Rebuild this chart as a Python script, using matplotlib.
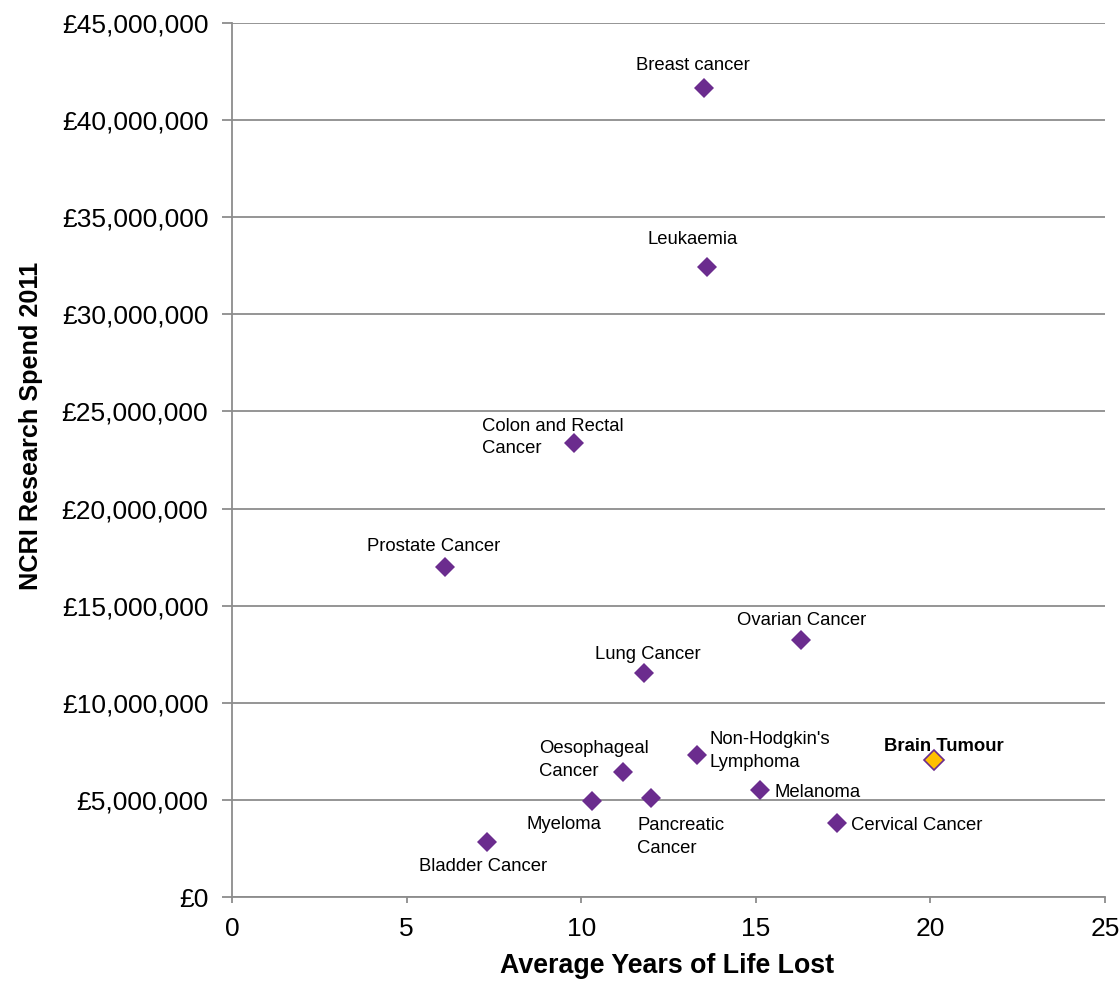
import matplotlib
matplotlib.use("Agg")
import matplotlib.pyplot as plt
from matplotlib.ticker import FuncFormatter

plt.rcParams['font.family'] = ['Liberation Sans', 'DejaVu Sans']

cancers = ["Breast cancer", "Leukaemia", "Colon and Rectal\nCancer", "Prostate Cancer",
           "Ovarian Cancer", "Lung Cancer", "Non-Hodgkin's\nLymphoma", "Brain Tumour",
           "Oesophageal\nCancer", "Melanoma", "Myeloma", "Pancreatic\nCancer",
           "Cervical Cancer", "Bladder Cancer"]
years_lost = [13.52, 13.60, 9.79, 6.10, 16.29, 11.80, 13.32, 20.10,
              11.20, 15.12, 10.31, 12.00, 17.33, 7.30]
spend = [41660000, 32440000, 23380000, 16990000, 13230000, 11530000, 7310000, 7050000,
         6440000, 5510000, 4940000, 5100000, 3810000, 2830000]

# label offsets in pixels (dx, dy) and horizontal alignment
label_pos = [(-11, 22, 'center'), (-14, 27, 'center'), (-92, 5, 'left'), (-11, 21, 'center'),
             (1, 20, 'center'), (4, 19, 'center'), (12, 4, 'left'), (10, 14, 'center'),
             (-84, 12, 'left'), (15, -2, 'left'), (-28, -23, 'center'), (-14, -39, 'left'),
             (14, -2, 'left'), (-4, -24, 'center')]

purple = '#6B2C8E'
gold = '#FFC000'
grey = '#8C8C8C'

fig = plt.figure(figsize=(11.2, 9.81), dpi=100)
ax = fig.add_axes([0.2071, 0.0856, 0.9866 - 0.2071, 0.9766 - 0.0856])

for name, x, y, (dx, dy, ha) in zip(cancers, years_lost, spend, label_pos):
    is_brain = name == "Brain Tumour"
    ax.plot(x, y, marker='D', markersize=10.5, linestyle='none',
            markerfacecolor=gold if is_brain else purple,
            markeredgecolor=purple, markeredgewidth=1.2 if is_brain else 0, zorder=3)
    ax.annotate(name, (x, y), xytext=(dx * 0.72, dy * 0.72), textcoords='offset points',
                ha=ha, va='center', fontsize=13.3, linespacing=1.4,
                fontweight='bold' if is_brain else 'normal', color='black', zorder=4)

ax.set_xlim(0, 25)
ax.set_ylim(0, 45000000)
ax.set_xticks(range(0, 26, 5))
ax.set_yticks(range(0, 45000001, 5000000))
ax.yaxis.set_major_formatter(FuncFormatter(lambda v, p: '£{:,.0f}'.format(v)))
ax.yaxis.grid(True, color=grey, linewidth=1.3)
ax.set_axisbelow(True)

for side in ['top', 'right']:
    ax.spines[side].set_visible(False)
for side in ['left', 'bottom']:
    ax.spines[side].set_color(grey)
    ax.spines[side].set_linewidth(1.3)
ax.tick_params(axis='both', colors=grey, labelcolor='black', labelsize=19, width=1.3)
ax.tick_params(axis='y', length=7, pad=10)
ax.tick_params(axis='x', length=4.5, pad=10)

# x label sits right at the bottom edge, as in the original
fig.text(667 / 1120, 2 / 981, 'Average Years of Life Lost', fontsize=19.3,
         fontweight='bold', ha='center', va='bottom')
fig.text(31 / 1120, 1 - 426 / 981, 'NCRI Research Spend 2011', fontsize=18.2,
         fontweight='bold', ha='center', va='center', rotation=90)

fig.savefig('out.png', dpi=100)
